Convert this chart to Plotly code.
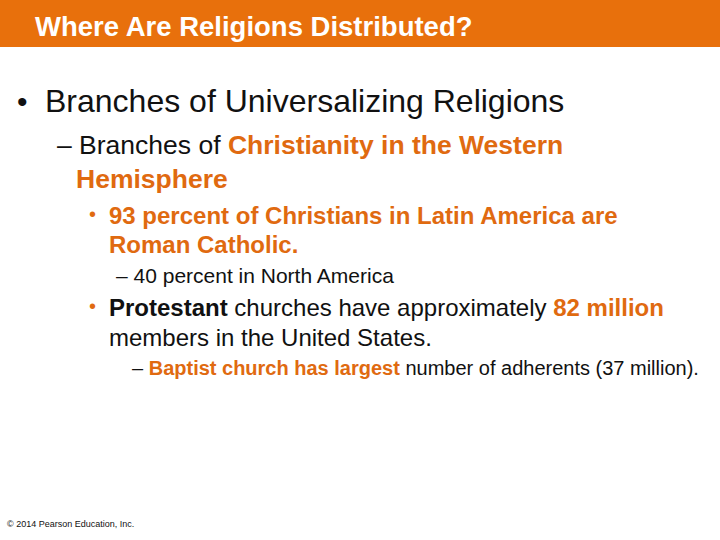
import plotly.graph_objects as go

ORANGE = "#E8700C"
TEXT = "#E06A10"
title = "Where Are Religions Distributed?"
lines = [
    # (x, y, size, html)
    (15, 101, 30, "•"),
    (43, 101, 32, "Branches of Universalizing Religions"),
    (55, 145, 26.5, f"– Branches of <b><span style='color:{TEXT}'>Christianity in the Western</span></b>"),
    (74, 179, 26.5, f"<b><span style='color:{TEXT}'>Hemisphere</span></b>"),
    (87, 214, 20, f"<span style='color:{TEXT}'>•</span>"),
    (107, 215, 24, f"<b><span style='color:{TEXT}'>93 percent of Christians in Latin America are</span></b>"),
    (107, 244, 24, f"<b><span style='color:{TEXT}'>Roman Catholic.</span></b>"),
    (114, 275, 21, "– 40 percent in North America"),
    (87, 306, 20, f"<span style='color:{TEXT}'>•</span>"),
    (107, 307, 24, f"<b>Protestant</b> churches have approximately <b><span style='color:{TEXT}'>82 million</span></b>"),
    (107, 337, 24, "members in the United States."),
    (130, 368, 20, f"– <b><span style='color:{TEXT}'>Baptist church has largest</span></b> number of adherents (37 million)."),
    (5, 524, 9, "© 2014 Pearson Education, Inc."),
]

fig = go.Figure()
fig.add_shape(type="rect", x0=0, x1=720, y0=0, y1=47, fillcolor=ORANGE, line_width=0, layer="below")
ann = [dict(x=33, y=26, text=f"<b>{title}</b>", showarrow=False, xanchor="left", yanchor="middle",
            font=dict(size=27.5, color="white", family="Liberation Sans, Arial"))]
for x, y, s, t in lines:
    ann.append(dict(x=x, y=y, text=t, showarrow=False, xanchor="left", yanchor="middle",
                    font=dict(size=s, color="#111111", family="Liberation Sans, Arial")))
fig.update_layout(width=720, height=540, margin=dict(l=0, r=0, t=0, b=0),
                  paper_bgcolor="white", plot_bgcolor="white", annotations=ann,
                  xaxis=dict(range=[0, 720], visible=False, fixedrange=True),
                  yaxis=dict(range=[540, 0], visible=False, fixedrange=True),
                  showlegend=False)
fig.write_html("out.html", config={"displayModeBar": False},
               post_script="document.body.style.margin='0';")
